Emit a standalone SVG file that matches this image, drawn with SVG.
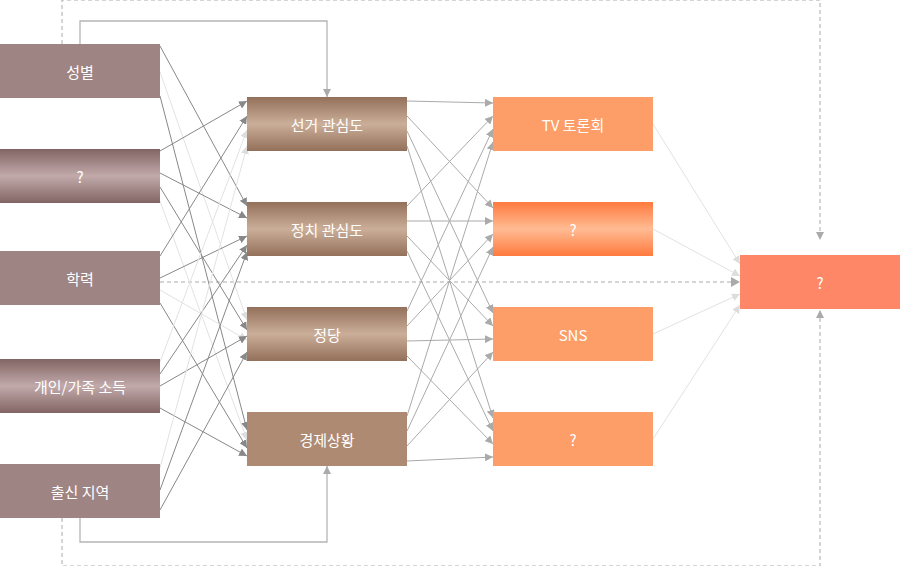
<svg xmlns="http://www.w3.org/2000/svg" width="900" height="566" viewBox="0 0 900 566">
<style>
text{font-family:"Noto Sans CJK KR","Noto Sans",sans-serif;font-size:15px;fill:#fff;text-anchor:middle;dominant-baseline:central}
.d{stroke:#888;stroke-width:1;fill:none;marker-end:url(#ad)}
.m{stroke:#aaa;stroke-width:1;fill:none;marker-end:url(#am)}
.l{stroke:#e2e2e2;stroke-width:1;fill:none;marker-end:url(#al)}
.s{stroke:#b5b5b5;stroke-width:1.3;fill:none;marker-end:url(#am)}
.dash{stroke:#aaa;stroke-width:1;stroke-dasharray:4 3;fill:none}
</style>
<defs>
<marker id="ad" markerWidth="8" markerHeight="8" refX="8" refY="4" orient="auto" markerUnits="userSpaceOnUse"><path d="M0,0L8,4L0,8z" fill="#888"/></marker>
<marker id="am" markerWidth="8" markerHeight="8" refX="8" refY="4" orient="auto" markerUnits="userSpaceOnUse"><path d="M0,0L8,4L0,8z" fill="#aaa"/></marker>
<marker id="al" markerWidth="8" markerHeight="8" refX="8" refY="4" orient="auto" markerUnits="userSpaceOnUse"><path d="M0,0L8,4L0,8z" fill="#ddd"/></marker>
<linearGradient id="gl" x1="0" y1="0" x2="0" y2="1"><stop offset="0" stop-color="#826464"/><stop offset="0.5" stop-color="#c2aaaa"/><stop offset="1" stop-color="#826464"/></linearGradient>
<linearGradient id="gm" x1="0" y1="0" x2="0" y2="1"><stop offset="0" stop-color="#93705a"/><stop offset="0.5" stop-color="#cbae99"/><stop offset="1" stop-color="#93705a"/></linearGradient>
<linearGradient id="gr" x1="0" y1="0" x2="0" y2="1"><stop offset="0" stop-color="#ff7a3e"/><stop offset="0.5" stop-color="#ffbb93"/><stop offset="1" stop-color="#ff7a3e"/></linearGradient>
</defs>
<g id="connectors">
<path class="dash" d="M62,44V0H820V234"/>
<path class="dash" d="M62,518V566H820V309"/>
<path d="M816,232L820,240L824,232z" fill="#aaa"/>
<path d="M816,318L820,310L824,318z" fill="#aaa"/>
<path class="dash" d="M160,282H732"/>
<path d="M731,277L740,282L731,287z" fill="#aaa"/>
<path class="s" d="M80,44V21H327V97"/>
<path class="s" d="M80,518V542H327V466"/>
<line class="d" x1="160" y1="46" x2="247" y2="206"/>
<line class="l" x1="160" y1="72" x2="247" y2="320"/>
<line class="d" x1="160" y1="96" x2="247" y2="430"/>
<line class="d" x1="160" y1="151" x2="247" y2="101"/>
<line class="d" x1="160" y1="173" x2="247" y2="218"/>
<line class="d" x1="160" y1="187" x2="247" y2="330"/>
<line class="l" x1="160" y1="201" x2="247" y2="440"/>
<line class="d" x1="160" y1="256" x2="247" y2="116"/>
<line class="d" x1="160" y1="278" x2="247" y2="236"/>
<line class="l" x1="160" y1="290" x2="247" y2="340"/>
<line class="d" x1="160" y1="303" x2="247" y2="448"/>
<line class="l" x1="160" y1="362" x2="247" y2="130"/>
<line class="d" x1="160" y1="374" x2="247" y2="245"/>
<line class="d" x1="160" y1="386" x2="247" y2="336"/>
<line class="d" x1="160" y1="408" x2="247" y2="456"/>
<line class="l" x1="160" y1="468" x2="247" y2="146"/>
<line class="d" x1="160" y1="490" x2="247" y2="252"/>
<line class="d" x1="160" y1="510" x2="247" y2="352"/>
<line class="m" x1="407" y1="101" x2="493" y2="103"/>
<line class="m" x1="407" y1="116" x2="493" y2="208"/>
<line class="m" x1="407" y1="131" x2="493" y2="313"/>
<line class="m" x1="407" y1="146" x2="493" y2="418"/>
<line class="m" x1="407" y1="206" x2="493" y2="116"/>
<line class="m" x1="407" y1="221" x2="493" y2="221"/>
<line class="m" x1="407" y1="236" x2="493" y2="326"/>
<line class="m" x1="407" y1="251" x2="493" y2="431"/>
<line class="m" x1="407" y1="311" x2="493" y2="129"/>
<line class="m" x1="407" y1="326" x2="493" y2="234"/>
<line class="m" x1="407" y1="341" x2="493" y2="339"/>
<line class="m" x1="407" y1="356" x2="493" y2="444"/>
<line class="m" x1="407" y1="416" x2="493" y2="142"/>
<line class="m" x1="407" y1="431" x2="493" y2="247"/>
<line class="m" x1="407" y1="446" x2="493" y2="352"/>
<line class="m" x1="407" y1="461" x2="493" y2="457"/>
<line class="l" x1="653" y1="124" x2="740" y2="264"/>
<line class="l" x1="653" y1="229" x2="740" y2="276"/>
<line class="l" x1="653" y1="334" x2="740" y2="294"/>
<line class="l" x1="653" y1="439" x2="740" y2="305"/>
</g>
<g id="n-gender"><rect x="0" y="44" width="160" height="54" fill="#9e8483"/><text x="80" y="71">성별</text></g>
<g id="n-q1"><rect x="0" y="149" width="160" height="54" fill="url(#gl)"/><text x="80" y="176">?</text></g>
<g id="n-edu"><rect x="0" y="251" width="160" height="54" fill="#9e8483"/><text x="80" y="278">학력</text></g>
<g id="n-income"><rect x="0" y="359" width="160" height="54" fill="url(#gl)"/><text x="80" y="386">개인/가족 소득</text></g>
<g id="n-region"><rect x="0" y="464" width="160" height="54" fill="#9e8483"/><text x="80" y="491">출신 지역</text></g>
<g id="n-election"><rect x="247" y="97" width="160" height="54" fill="url(#gm)"/><text x="327" y="124">선거 관심도</text></g>
<g id="n-politics"><rect x="247" y="202" width="160" height="54" fill="url(#gm)"/><text x="327" y="229">정치 관심도</text></g>
<g id="n-party"><rect x="247" y="307" width="160" height="54" fill="url(#gm)"/><text x="327" y="334">정당</text></g>
<g id="n-economy"><rect x="247" y="412" width="160" height="54" fill="#ae8a72"/><text x="327" y="439">경제상황</text></g>
<g id="n-tv"><rect x="493" y="97" width="160" height="54" fill="#fd9d67"/><text x="573" y="124">TV 토론회</text></g>
<g id="n-q2"><rect x="493" y="202" width="160" height="54" fill="url(#gr)"/><text x="573" y="229">?</text></g>
<g id="n-sns"><rect x="493" y="307" width="160" height="54" fill="#fd9d67"/><text x="573" y="334">SNS</text></g>
<g id="n-q3"><rect x="493" y="412" width="160" height="54" fill="#fd9d67"/><text x="573" y="439">?</text></g>
<g id="n-final"><rect x="740" y="255" width="160" height="54" fill="#fe8767"/><text x="820" y="282">?</text></g>
</svg>
